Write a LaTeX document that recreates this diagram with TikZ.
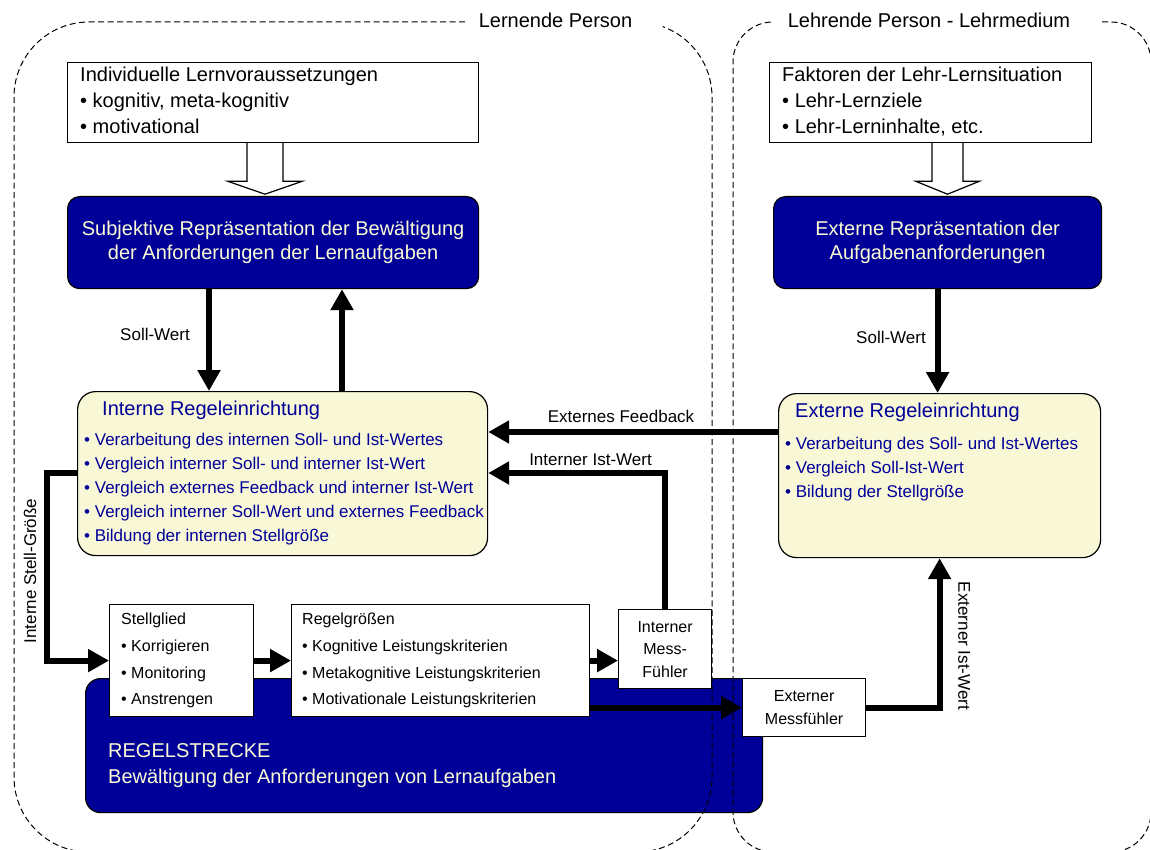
\documentclass[tikz,border=0pt]{standalone}
\usepackage{fontspec}
\setmainfont{Liberation Sans}
\usetikzlibrary{arrows.meta,calc}
\definecolor{navy}{RGB}{0,0,153}
\definecolor{cream}{RGB}{248,247,214}
\definecolor{paletext}{RGB}{250,250,212}
\definecolor{inkblue}{RGB}{0,0,153}

\begin{document}
\begin{tikzpicture}[x=1pt,y=-1pt,
  box/.style={draw=black,line width=1.2pt,fill=white,inner sep=0pt,anchor=north west},
  darkbox/.style={box,fill=navy,rounded corners=12pt,text=paletext,align=center},
  ctrlbox/.style={box,fill=cream,rounded corners=18pt},
  txt/.style={inner sep=0pt,anchor=north west,align=left},
  conn/.style={line width=6pt,-{Triangle[width=22pt,length=21pt]}},
  hollow/.style={draw=black,line width=1.2pt,fill=white},
  zone/.style={line width=1pt,dash pattern=on 6pt off 3.5pt},
  lbl/.style={inner sep=0pt,font=\fontsize{17}{20}\selectfont},
  zonelbl/.style={inner sep=0pt,font=\fontsize{20}{24}\selectfont},
]
\useasboundingbox (0,0) rectangle (1150,850);

% ---------- Regelstrecke (background of the bottom row) ----------
\node[darkbox,rounded corners=15pt,minimum width=677pt,minimum height=134pt] (rs) at (85,678) {};
\node[txt,text=paletext,font=\fontsize{20}{26.7}\selectfont] (rst) at (108,743)
  {REGELSTRECKE\\Bewältigung der Anforderungen von Lernaufgaben};

% ---------- left column: learner ----------
\node[box,minimum width=411pt,minimum height=80pt] (lv) at (67,62) {};
\node[txt,font=\fontsize{20}{26}\selectfont] (lvt) at (80,66.5)
  {Individuelle Lernvoraussetzungen\\• kognitiv, meta-kognitiv\\• motivational};

\node[darkbox,minimum width=411pt,minimum height=92pt,font=\fontsize{20}{24}\selectfont] (subj) at (67,196)
  {Subjektive Repräsentation der Bewältigung\\der Anforderungen der Lernaufgaben};

\node[ctrlbox,minimum width=410pt,minimum height=164pt] (ireg) at (77,391) {};
\node[txt,text=inkblue,font=\fontsize{20}{24}\selectfont] (iregt) at (102,400.5) {Interne Regeleinrichtung};
\node[txt,text=inkblue,font=\fontsize{17}{24}\selectfont] (iregl) at (84,432.7)
  {• Verarbeitung des internen Soll- und Ist-Wertes\\
   • Vergleich interner Soll- und interner Ist-Wert\\
   • Vergleich externes Feedback und interner Ist-Wert\\
   • Vergleich interner Soll-Wert und externes Feedback\\
   • Bildung der internen Stellgröße};

% ---------- right column: teacher / medium ----------
\node[box,minimum width=322pt,minimum height=80pt] (fak) at (769,62) {};
\node[txt,font=\fontsize{20}{26}\selectfont] (fakt) at (782,66.5)
  {Faktoren der Lehr-Lernsituation\\• Lehr-Lernziele\\• Lehr-Lerninhalte, etc.};

\node[darkbox,minimum width=328pt,minimum height=92pt,font=\fontsize{20}{24}\selectfont] (erep) at (773,196)
  {Externe Repräsentation der\\Aufgabenanforderungen};

\node[ctrlbox,minimum width=322pt,minimum height=164pt] (ereg) at (778,393) {};
\node[txt,text=inkblue,font=\fontsize{20}{24}\selectfont] (eregt) at (795,403) {Externe Regeleinrichtung};
\node[txt,text=inkblue,font=\fontsize{17}{24}\selectfont] (eregl) at (785,436.7)
  {• Verarbeitung des Soll- und Ist-Wertes\\
   • Vergleich Soll-Ist-Wert\\
   • Bildung der Stellgröße};

% ---------- bottom row ----------
\node[box,minimum width=144pt,minimum height=112pt] (stell) at (109,604) {};
\node[txt,font=\fontsize{16}{26.7}\selectfont] (stellt) at (121,613)
  {Stellglied\\• Korrigieren\\• Monitoring\\• Anstrengen};

\node[box,minimum width=298pt,minimum height=112pt] (rg) at (291,604) {};
\node[txt,font=\fontsize{16}{26.7}\selectfont] (rgt) at (302,613)
  {Regelgrößen\\• Kognitive Leistungskriterien\\• Metakognitive Leistungskriterien\\• Motivationale Leistungskriterien};

\node[box,minimum width=93pt,minimum height=79pt,align=center,font=\fontsize{16}{22.5}\selectfont] (imf) at (618,609)
  {Interner\\Mess-\\Fühler};

\node[box,minimum width=123pt,minimum height=58pt,align=center,font=\fontsize{16}{23}\selectfont] (emf) at (742,678)
  {Externer\\Messfühler};

% ---------- dashed zones ----------
\draw[zone] (465,22) -- (89,22) arc[start angle=-90,end angle=-180,radius=75]
  -- (14,777) arc[start angle=180,end angle=90,radius=75]
  -- (637,852) arc[start angle=90,end angle=0,radius=75]
  -- (712,97) arc[start angle=0,end angle=-70,radius=75];
\node[zonelbl] (zl) at (555.5,20.5) {Lernende Person};

\draw[zone] (1102,22) -- (1111,22) arc[start angle=-90,end angle=0,radius=40]
  -- (1151,812) arc[start angle=0,end angle=90,radius=40]
  -- (773,852) arc[start angle=90,end angle=180,radius=40]
  -- (733,62) arc[start angle=180,end angle=270,radius=40];
\node[zonelbl] (zr) at (929,20.5) {Lehrende Person - Lehrmedium};

% ---------- hollow input arrows ----------
\draw[hollow] ([xshift=180pt]lv.south west) -- ++(0,38) -- ++(-19.5,0) -- ++(37.5,13)
  -- ++(37.5,-13) -- ++(-19.5,0) -- ++(0,-38);
\draw[hollow] ([xshift=163pt]fak.south west) -- ++(0,38) -- ++(-16.5,0) -- ++(32,13)
  -- ++(32,-13) -- ++(-16.5,0) -- ++(0,-38);

% ---------- control connectors ----------
\path ([xshift=142pt]subj.south west) coordinate (sollA);
\draw[conn] (sollA) -- (sollA |- ireg.north);
\path ([xshift=265pt]ireg.north west) coordinate (istA);
\draw[conn] (istA) -- (istA |- subj.south);
\draw[conn] (erep.south) -- (erep.south |- ereg.north);

\path ([yshift=-39pt]ereg.north west) coordinate (fbA);
\draw[conn] (fbA) -- (fbA -| ireg.east);
\path ([yshift=-82pt]ireg.north east) coordinate (iiwA);
\draw[conn] (imf.north) |- (iiwA);
\path ([yshift=-82pt]ireg.north west) coordinate (isgA);
\draw[conn] (isgA) -- ++(-30,0) |- (stell.west);

\draw[conn] (stell.east) -- (rg.west);
\draw[conn] (rg.east) -- (rg.east -| imf.west);
\draw[conn] (emf.west -| rg.east) -- (emf.west);
\draw[conn] (emf.east) -| (ereg.south);

% ---------- connector labels ----------
\node[lbl] (l1) at (155,334) {Soll-Wert};
\node[lbl] (l2) at (891,337) {Soll-Wert};
\node[lbl] (l3) at (621,416) {Externes Feedback};
\node[lbl] (l4) at (590.5,460) {Interner Ist-Wert};
\node[lbl,rotate=90] (l5) at (30,571) {Interne Stell-Größe};
\node[lbl,rotate=-90] (l6) at (964,646) {Externer Ist-Wert};
\end{tikzpicture}
\end{document}
